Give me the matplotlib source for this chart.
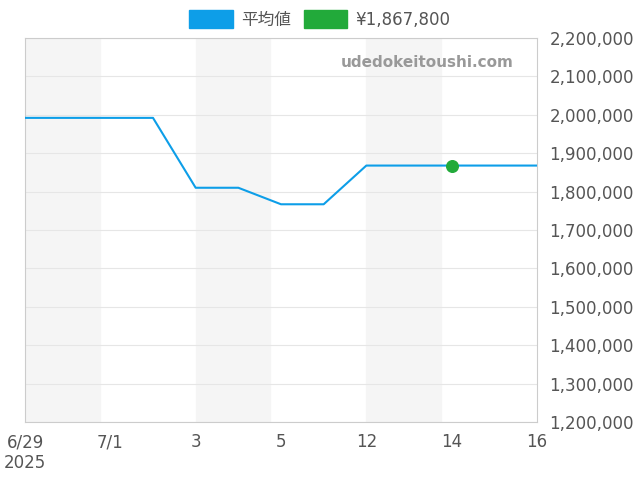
import matplotlib.pyplot as plt
from matplotlib.ticker import FuncFormatter
from matplotlib.patches import Patch

plt.rcParams['font.family'] = ['DejaVu Sans', 'Noto Sans CJK JP']

# daily points, evenly spaced
labels = ['6/29\n2025', '', '7/1', '', '3', '', '5', '', '12', '', '14', '', '16']
avg = [1992000, 1992000, 1992000, 1992000, 1810000, 1810000, 1767000,
       1767000, 1867800, 1867800, 1867800, 1867800, 1867800]
cur_idx = 10
cur_val = 1867800
bands = [(0, 1.75), (4, 5.75), (8, 9.75)]

fig = plt.figure(figsize=(6.4, 4.8), dpi=100)
ax = fig.add_axes([25/640, 58/480, 512/640, 384/480])
x = list(range(len(avg)))
for a, b in bands:
    ax.axvspan(a, b, color='#f5f5f5', zorder=0)
ax.plot(x, avg, color='#0d9ee8', lw=1.5, zorder=3)
ax.scatter([cur_idx], [cur_val], color='#22aa3a', s=70, zorder=4)

ax.set_xlim(0, 12)
ax.set_ylim(1200000, 2200000)
ax.set_xticks(x)
ax.set_xticklabels(labels)
ax.yaxis.tick_right()
ax.set_yticks(range(1200000, 2200001, 100000))
ax.yaxis.set_major_formatter(FuncFormatter(lambda v, p: f'{int(v):,}'))
ax.grid(axis='y', color='#e6e6e6', lw=0.8)
ax.tick_params(colors='#555555', labelsize=12, length=0)
ax.tick_params(axis='x', pad=8)
ax.tick_params(axis='y', pad=9)
for s in ax.spines.values():
    s.set_color('#cccccc')
ax.text(0.955, 0.935, 'udedokeitoushi.com', transform=ax.transAxes, ha='right',
        va='center', color='#999999', fontsize=11, fontweight='bold')

handles = [Patch(color='#0d9ee8'), Patch(color='#22aa3a')]
fig.legend(handles, ['平均値', '¥1,867,800'], loc='upper center', ncol=2,
           bbox_to_anchor=(0.5, 1.01), frameon=False, fontsize=12,
           handlelength=2.6, handleheight=1.3, handletextpad=0.5,
           columnspacing=0.8, labelcolor='#555555')
fig.savefig('out.png')
